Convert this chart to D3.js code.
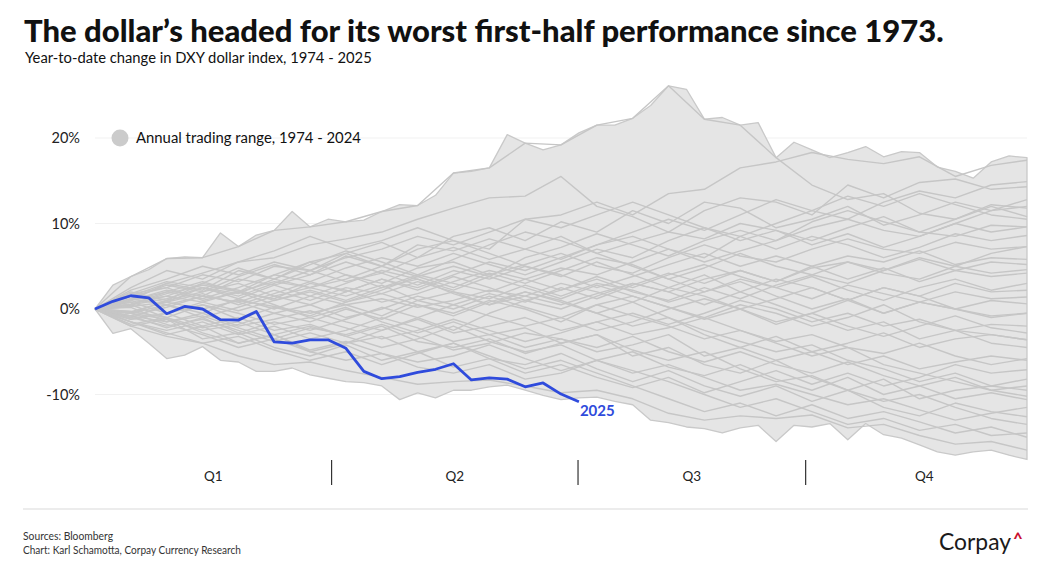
<!DOCTYPE html>
<html>
<head>
<meta charset="utf-8">
<script src="https://cdn.jsdelivr.net/npm/d3@7"></script>
<style>
  body { margin: 0; background: #fff; }
  svg { display: block; font-family: Lato, "Open Sans", sans-serif; }
</style>
</head>
<body>
<script>
// weekly range of YTD change (%), 1974 - 2024, week 0..52
var rangeHigh = [0, 2.8, 3.8, 4.6, 5.9, 6.1, 6.0, 8.9, 7.3, 8.65, 9.2, 11.4, 9.6, 10.5, 10.2, 10.4, 11.4, 12.2, 12.1, 13.3,
  15.9, 16.1, 16.5, 20.4, 19.4, 18.6, 19.2, 20.6, 21.5, 21.5, 22.3, 23.8, 26.1, 25.7, 22.2, 22.4, 21.5, 21.8, 17.7, 19.5,
  18.6, 17.7, 18.3, 19.0, 17.8, 18.4, 18.3, 16.6, 16.1, 15.3, 17.2, 17.9, 17.7];
var rangeLow = [0, -2.85, -2.3, -4.0, -5.8, -5.4, -4.4, -6.0, -6.2, -7.3, -7.3, -6.9, -7.7, -8.1, -8.5, -8.6, -9.0, -10.6, -9.8, -10.4,
  -9.5, -9.5, -9.1, -8.9, -9.5, -10.1, -10.6, -10.4, -10.3, -10.8, -11.2, -13.0, -13.3, -13.8, -14.0, -14.5, -13.9, -13.6, -15.5, -13.6,
  -13.8, -13.4, -15.3, -13.4, -14.7, -15.1, -15.9, -16.7, -17.1, -16.7, -16.5, -17.1, -17.6];

// 2025, weekly
var y2025 = [0, 0.9, 1.55, 1.3, -0.55, 0.3, 0.0, -1.25, -1.3, -0.3, -3.85, -4.0, -3.6, -3.6, -4.6, -7.3, -8.15, -7.9,
  -7.4, -7.05, -6.4, -8.3, -8.05, -8.2, -9.1, -8.65, -9.95, -10.85];

// past years, every second week (0, 2, ... 52)
var pastYears = [
  [0, 3.8, 5.9, 6.0, 7.3, 9.2, 9.6, 10.2, 11.4, 12.1, 15.9, 16.5, 19.4, 19.2, 21.5, 22.3, 26.1, 22.2, 21.5, 17.7, 14.5, 12.8, 13.5, 11.2, 10.5, 12.2, 11.8],
  [0, 1.5, 3.0, 4.2, 5.5, 6.0, 7.5, 8.2, 9.0, 10.5, 11.8, 13.0, 13.2, 15.5, 12.0, 10.8, 9.0, 11.5, 13.0, 12.5, 11.0, 14.5, 13.0, 14.8, 15.2, 14.0, 14.3],
  [0, 2.5, 4.5, 3.5, 5.5, 6.8, 8.5, 7.0, 8.0, 9.5, 8.0, 7.0, 10.5, 11.0, 12.5, 11.0, 13.5, 14.0, 16.5, 17.2, 18.3, 17.5, 17.0, 17.8, 15.5, 16.8, 17.4],
  [0, 1.8, 2.5, 4.0, 3.2, 5.0, 4.5, 6.5, 7.8, 6.0, 8.5, 9.5, 8.0, 10.2, 9.0, 11.5, 10.0, 12.5, 11.8, 9.5, 10.5, 12.0, 9.8, 11.0, 12.5, 11.5, 12.0],
  [0, 1.0, 2.2, 1.5, 3.5, 2.8, 4.0, 5.5, 4.2, 6.0, 7.2, 5.8, 7.0, 8.5, 6.5, 7.8, 9.0, 8.2, 10.0, 9.2, 8.0, 9.5, 10.8, 9.0, 8.5, 9.8, 9.6],
  [0, 0.5, 1.8, 2.8, 2.0, 3.2, 2.5, 4.0, 3.0, 4.8, 5.5, 4.0, 5.2, 6.5, 5.0, 4.2, 6.0, 7.5, 6.2, 5.5, 7.0, 8.2, 7.0, 6.5, 7.8, 7.0, 7.3],
  [0, -0.5, 1.0, 2.0, 3.0, 1.5, 2.5, 3.5, 5.0, 3.8, 2.5, 4.2, 3.0, 4.5, 6.0, 5.2, 3.5, 4.8, 6.5, 5.0, 4.0, 5.5, 4.2, 3.5, 5.0, 4.2, 4.6],
  [0, 1.2, 0.5, 1.5, 0.8, 2.2, 1.0, 2.5, 1.8, 3.2, 2.0, 1.2, 2.8, 1.5, 3.0, 2.2, 0.8, 2.0, 3.5, 2.5, 1.2, 2.8, 1.8, 0.8, 2.0, 1.2, 1.4],
  [0, -1.0, 0.5, -0.5, 1.2, 0.0, 1.5, 0.5, -0.8, 1.0, 2.0, 0.5, 1.5, 3.0, 2.0, 0.8, 2.5, 1.5, 0.0, 1.2, 2.5, 1.0, -0.5, 0.8, 0.0, -0.8, -0.5],
  [0, 0.8, -0.5, 0.5, -1.2, 0.2, -0.8, 0.8, 1.8, 0.5, -0.5, 1.0, 0.0, -1.5, 0.5, 1.5, 0.2, -1.0, 0.5, -0.5, -2.0, -1.0, 0.5, -1.5, -2.5, -3.0, -3.6],
  [0, -1.5, -2.5, -1.5, -3.0, -2.0, -3.5, -2.5, -1.0, -2.2, -3.8, -3.0, -4.5, -3.5, -5.0, -4.2, -3.0, -5.5, -4.5, -6.0, -5.0, -6.5, -5.5, -7.0, -6.2, -5.5, -6.0],
  [0, -2.0, -1.2, -3.5, -2.8, -4.5, -5.5, -4.2, -6.0, -5.0, -6.8, -5.8, -7.5, -6.5, -8.0, -9.2, -8.0, -9.8, -8.5, -7.2, -8.8, -7.5, -9.0, -8.0, -6.5, -7.5, -7.1],
  [0, -2.0, -3.2, -4.0, -5.5, -6.5, -6.2, -7.2, -8.0, -8.8, -8.5, -8.3, -9.0, -9.8, -9.5, -10.5, -12.2, -13.0, -12.5, -12.8, -12.4, -13.9, -13.5, -14.8, -15.8, -15.5, -16.5],
  [0, -1.0, -2.0, -1.2, -2.5, -3.8, -2.8, -4.0, -3.2, -5.0, -4.0, -5.8, -6.5, -5.2, -7.0, -8.5, -7.2, -9.0, -10.2, -9.0, -10.8, -9.5, -11.5, -12.5, -11.0, -12.0, -12.6],
  [0, 0.5, -1.0, -2.2, -1.5, -3.0, -2.0, -3.2, -4.5, -3.5, -2.0, -3.8, -5.0, -4.2, -6.0, -5.0, -6.8, -7.8, -6.5, -8.2, -9.5, -8.0, -10.0, -9.0, -10.5, -9.8, -10.6],
  [0, 1.5, 2.5, 1.0, 2.0, 0.5, -1.0, 0.2, -1.5, -2.8, -1.5, -3.0, -2.2, -4.0, -3.0, -5.5, -4.5, -6.5, -7.5, -6.0, -8.0, -9.5, -8.2, -10.5, -9.5, -9.0, -9.5],
  [0, -0.5, 0.5, -1.0, 0.2, 1.5, 0.5, 2.0, 3.5, 2.5, 4.0, 5.5, 4.5, 6.0, 7.5, 8.5, 7.0, 5.5, 6.8, 8.0, 9.5, 10.5, 9.2, 8.5, 10.0, 9.0, 9.6],
  [0, 1.0, 3.0, 2.2, 4.5, 3.5, 5.5, 4.0, 2.5, 3.5, 1.8, 0.5, 2.0, 0.8, -0.5, -2.0, -1.0, -3.0, -4.5, -3.2, -5.0, -4.0, -2.8, -4.5, -3.5, -3.0, -3.6],
  [0, 2.0, 1.0, 3.0, 4.8, 3.5, 5.2, 6.8, 5.5, 4.0, 5.8, 7.5, 9.0, 8.0, 6.5, 5.0, 3.5, 2.0, 3.2, 1.5, 0.0, 1.2, -0.5, 0.8, 0.0, -1.0, -0.5],
  [0, -1.2, -0.5, 0.8, -0.2, 1.0, 2.2, 1.0, 2.5, 4.0, 3.0, 2.0, 3.5, 4.8, 4.0, 5.5, 7.0, 6.0, 8.5, 10.0, 11.5, 10.5, 12.5, 13.8, 13.0, 14.5, 14.9],
  [0, 0.3, 0.8, 0.0, 1.0, 0.3, -0.5, 0.5, 1.2, 0.2, 1.0, 2.2, 1.5, 0.5, 1.8, 3.0, 2.0, 3.5, 4.5, 3.2, 4.8, 5.5, 4.5, 6.0, 5.0, 6.5, 7.3],
  [0, -0.8, -1.5, -0.5, -2.0, -1.2, -0.2, -1.5, -2.5, -1.2, -2.8, -2.0, -1.0, -2.5, -1.5, -3.0, -2.2, -1.0, -2.5, -3.8, -3.0, -4.5, -5.2, -4.0, -5.5, -6.5, -5.8],
  [0, 1.5, 0.8, 2.5, 1.5, 3.0, 4.5, 3.2, 4.2, 2.8, 4.5, 3.5, 5.0, 4.0, 2.5, 3.8, 5.2, 6.5, 5.0, 6.2, 5.0, 3.5, 4.8, 3.2, 4.5, 5.5, 5.2],
  [0, -1.5, -3.0, -2.0, -4.0, -3.0, -5.0, -4.0, -2.5, -1.0, -2.5, -0.5, 1.0, 0.0, 1.5, 3.0, 2.0, 0.5, 2.0, 3.5, 2.5, 1.0, 2.5, 1.5, 0.0, 1.0, 0.6],
  [0, 0.5, 2.0, 3.2, 2.0, 4.0, 5.5, 6.5, 5.0, 7.0, 8.0, 6.5, 5.0, 3.8, 5.5, 4.0, 2.5, 4.0, 2.0, 0.5, -1.0, -2.5, -1.5, -3.5, -2.5, -4.0, -4.5],
  [0, -0.5, -1.8, -3.0, -4.5, -3.5, -5.0, -6.0, -5.2, -6.8, -7.5, -6.5, -8.2, -7.5, -6.0, -7.2, -8.5, -10.0, -11.5, -10.5, -12.0, -13.5, -12.8, -14.2, -13.5, -14.8, -14.5],
  [0, 0.8, 1.5, 0.8, 2.0, 1.2, 3.0, 2.2, 0.8, 1.8, 3.2, 4.5, 3.5, 2.2, 3.5, 2.0, 1.0, 2.5, 1.2, 2.8, 4.0, 3.0, 4.5, 5.8, 4.5, 3.8, 4.2],
  [0, -0.3, -1.0, 0.5, -0.5, -1.8, -1.0, -2.2, -3.5, -2.5, -1.2, -2.5, -3.8, -2.8, -1.5, -0.5, -1.8, -0.5, 1.0, 0.0, -1.5, -0.5, -2.0, -1.2, -2.5, -1.8, -2.0],
  [0, 2.2, 3.5, 5.0, 4.0, 5.5, 4.5, 6.0, 7.0, 8.5, 7.5, 9.0, 10.5, 9.5, 11.0, 12.5, 11.0, 9.5, 8.0, 9.2, 7.5, 8.8, 7.2, 8.5, 10.0, 11.5, 12.8],
  [0, -0.8, 0.2, 1.5, 0.8, -0.5, 0.5, -1.0, 0.0, 1.5, 0.5, -0.8, -2.0, -1.0, -2.5, -1.5, 0.0, 1.2, 0.0, -1.5, -0.5, 1.0, 2.5, 1.5, 3.0, 2.0, 2.2],
  [0, -1.2, -0.5, -2.0, -1.0, -2.5, -1.8, -3.2, -2.0, -3.8, -4.5, -3.5, -5.2, -4.0, -3.0, -4.8, -6.0, -5.0, -7.0, -8.5, -7.8, -9.5, -10.8, -10.0, -11.5, -12.8, -13.5],
  [0, 0.5, 1.2, 2.5, 1.8, 3.5, 2.5, 1.5, 2.8, 1.0, 0.0, 1.5, 0.2, -1.0, 0.5, -0.8, -2.0, -3.5, -2.5, -4.0, -5.5, -4.5, -6.5, -7.5, -8.5, -9.5, -10.2],
  [0, 1.0, 2.0, 1.2, 2.5, 4.0, 3.2, 4.8, 6.0, 5.0, 6.5, 5.2, 4.0, 5.5, 7.0, 6.0, 8.0, 9.5, 8.5, 7.0, 8.5, 7.5, 6.0, 7.2, 8.8, 8.0, 8.6],
  [0, -0.5, -1.2, -2.5, -1.8, -0.5, -1.5, 0.0, -1.2, 0.5, -0.8, 0.8, 2.0, 1.0, -0.5, 0.8, -1.0, -2.5, -3.8, -5.0, -4.2, -6.0, -7.0, -8.5, -7.5, -9.0, -8.2],
  [0, 1.2, 2.8, 2.0, 3.8, 5.2, 4.0, 6.2, 5.0, 7.5, 6.8, 8.2, 7.0, 5.8, 7.5, 9.0, 10.5, 9.2, 11.0, 12.8, 11.5, 13.2, 12.0, 13.5, 12.2, 11.0, 10.5],
  [0, -0.8, -2.2, -1.0, -2.8, -1.5, -2.5, -1.2, 0.2, -1.0, 0.5, 1.8, 0.8, 2.5, 1.2, 2.8, 4.2, 3.0, 4.5, 3.2, 5.0, 6.2, 5.5, 6.8, 5.2, 6.0, 5.8],
  [0, 0.2, -1.5, -0.8, -2.2, -3.5, -2.2, -3.0, -1.8, -3.2, -4.8, -4.0, -2.8, -3.5, -4.5, -3.2, -5.0, -6.2, -5.0, -6.5, -7.5, -6.2, -7.8, -9.0, -8.0, -9.5, -9.0],
  [0, 1.8, 3.2, 2.5, 1.2, 2.8, 1.5, 3.0, 4.5, 3.5, 2.2, 3.8, 6.0, 7.2, 8.8, 7.5, 6.2, 8.0, 9.2, 8.0, 10.2, 11.5, 10.2, 9.0, 10.5, 12.0, 10.8],
  [0, -1.8, -1.0, -2.8, -4.0, -3.0, -4.8, -3.8, -5.2, -6.2, -5.5, -4.2, -5.8, -7.2, -6.0, -7.5, -6.5, -8.0, -9.5, -8.8, -10.0, -11.2, -10.5, -11.8, -13.0, -12.2, -11.5],
  [0, 0.6, 1.5, 3.0, 2.2, 1.0, 2.0, 0.8, 2.2, 3.8, 5.0, 3.8, 2.5, 1.2, 2.8, 1.5, 0.2, -1.2, 0.0, -1.8, -0.5, -2.0, -3.2, -2.0, -0.8, -2.2, -2.8],
  [0, -0.3, 0.8, 1.8, 0.5, 1.8, 3.2, 2.0, 3.5, 2.2, 3.8, 2.5, 1.0, 2.2, 3.8, 2.5, 4.0, 5.2, 3.8, 2.5, 3.8, 2.2, 1.0, 2.5, 3.5, 2.2, 3.0],
  [0, -1.5, -2.8, -4.0, -3.2, -4.8, -6.0, -5.0, -6.5, -5.2, -4.0, -5.5, -7.0, -6.0, -7.5, -9.0, -10.5, -12.0, -11.0, -12.5, -11.2, -12.8, -12.0, -13.2, -14.5, -13.8, -15.0]
];

var yTicks = [20, 10, 0, -10];
var quarters = ["Q1", "Q2", "Q3", "Q4"];
var quarterEdges = [0, 13.2, 26.95, 39.65, 52.9]; // in weeks

var W = 1045, H = 566;
var left = 95, right = 1027;

var svg = d3.select("body").append("svg")
  .attr("width", W)
  .attr("height", H);

var x = d3.scaleLinear().domain([0, 52]).range([left, right]);
var y = d3.scaleLinear().domain([20, -10]).range([138, 394.5]);

function fit(sel, w) {
  var fs = parseFloat(sel.attr("font-size"));
  var len = sel.node().getComputedTextLength();
  sel.attr("font-size", (fs * w / len).toFixed(2));
}

// title
svg.append("text")
  .attr("x", 24).attr("y", 42)
  .attr("font-size", 29).attr("font-weight", 900).attr("fill", "#111")
  .text("The dollar\u2019s headed for its worst first-half performance since 1973.")
  .call(fit, 920);

svg.append("text")
  .attr("x", 25).attr("y", 63)
  .attr("font-size", 14).attr("fill", "#111")
  .text("Year-to-date change in DXY dollar index, 1974 - 2025")
  .call(fit, 347);

// grid
svg.append("g").selectAll("line")
  .data(yTicks)
  .enter().append("line")
  .attr("x1", left).attr("x2", right)
  .attr("y1", d => y(d)).attr("y2", d => y(d))
  .attr("stroke", "#f1f1f1").attr("stroke-width", 1);

// y axis
var yAxis = svg.append("g")
  .attr("transform", "translate(" + left + ",0)")
  .call(d3.axisLeft(y).tickValues(yTicks).tickSize(0).tickPadding(15).tickFormat(d => d + "%"));
yAxis.select(".domain").remove();
yAxis.selectAll("text")
  .attr("font-family", "Lato, sans-serif")
  .attr("font-size", 14.5)
  .attr("fill", "#222");

// range envelope
var area = d3.area()
  .x((d, i) => x(i))
  .y0((d, i) => y(rangeLow[i]))
  .y1(d => y(d));

svg.append("path")
  .attr("d", area(rangeHigh))
  .attr("fill", "#e5e5e5")
  .attr("stroke", "#c9c9c9")
  .attr("stroke-width", 1.3)
  .attr("stroke-linejoin", "round");

// past years
var pastLine = d3.line()
  .x((d, i) => x(i * 2))
  .y(d => y(d));

svg.append("g").selectAll("path")
  .data(pastYears)
  .enter().append("path")
  .attr("d", pastLine)
  .attr("fill", "none")
  .attr("stroke", "#c6c6c6")
  .attr("stroke-width", 1.4)
  .attr("stroke-linejoin", "round");

// 2025
var line2025 = d3.line()
  .x((d, i) => x(i))
  .y(d => y(d));

svg.append("path")
  .attr("d", line2025(y2025))
  .attr("fill", "none")
  .attr("stroke", "#2f4bdc")
  .attr("stroke-width", 2.8)
  .attr("stroke-linejoin", "round");

var last = y2025.length - 1;
svg.append("text")
  .attr("x", x(last) + 1)
  .attr("y", y(y2025[last]) + 14)
  .attr("font-size", 15).attr("font-weight", 700)
  .attr("fill", "#2f4bdc")
  .text("2025");

// legend
svg.append("circle")
  .attr("cx", 120).attr("cy", 138).attr("r", 8.5)
  .attr("fill", "#cbcbcb");
svg.append("text")
  .attr("x", 136).attr("y", 143)
  .attr("font-size", 14.5).attr("fill", "#111")
  .text("Annual trading range, 1974 - 2024")
  .call(fit, 225);

// quarters
var qg = svg.append("g");
qg.selectAll("line")
  .data(quarterEdges.slice(1, 4))
  .enter().append("line")
  .attr("x1", d => x(d)).attr("x2", d => x(d))
  .attr("y1", 460).attr("y2", 485)
  .attr("stroke", "#333").attr("stroke-width", 1.2);
qg.selectAll("text")
  .data(quarters)
  .enter().append("text")
  .attr("x", (d, i) => x((quarterEdges[i] + quarterEdges[i + 1]) / 2))
  .attr("y", 481)
  .attr("text-anchor", "middle")
  .attr("font-size", 13.5).attr("fill", "#222")
  .text(d => d);

// footer
svg.append("line")
  .attr("x1", 23).attr("x2", 1028)
  .attr("y1", 509).attr("y2", 509)
  .attr("stroke", "#e6e6e6").attr("stroke-width", 1.3);

svg.append("text")
  .attr("x", 23).attr("y", 540)
  .attr("font-size", 10.5).attr("fill", "#333")
  .attr("textLength", 90).attr("lengthAdjust", "spacingAndGlyphs")
  .text("Sources: Bloomberg");
svg.append("text")
  .attr("x", 23).attr("y", 553.5)
  .attr("font-size", 10.5).attr("fill", "#333")
  .attr("textLength", 218).attr("lengthAdjust", "spacingAndGlyphs")
  .text("Chart: Karl Schamotta, Corpay Currency Research");

svg.append("text")
  .attr("x", 939).attr("y", 550)
  .attr("font-size", 23).attr("fill", "#1a1a1a")
  .text("Corpay")
  .call(fit, 72);
svg.append("text")
  .attr("x", 1013).attr("y", 545)
  .attr("font-size", 17).attr("font-weight", 700).attr("fill", "#c8102e")
  .text("^");
</script>
</body>
</html>
